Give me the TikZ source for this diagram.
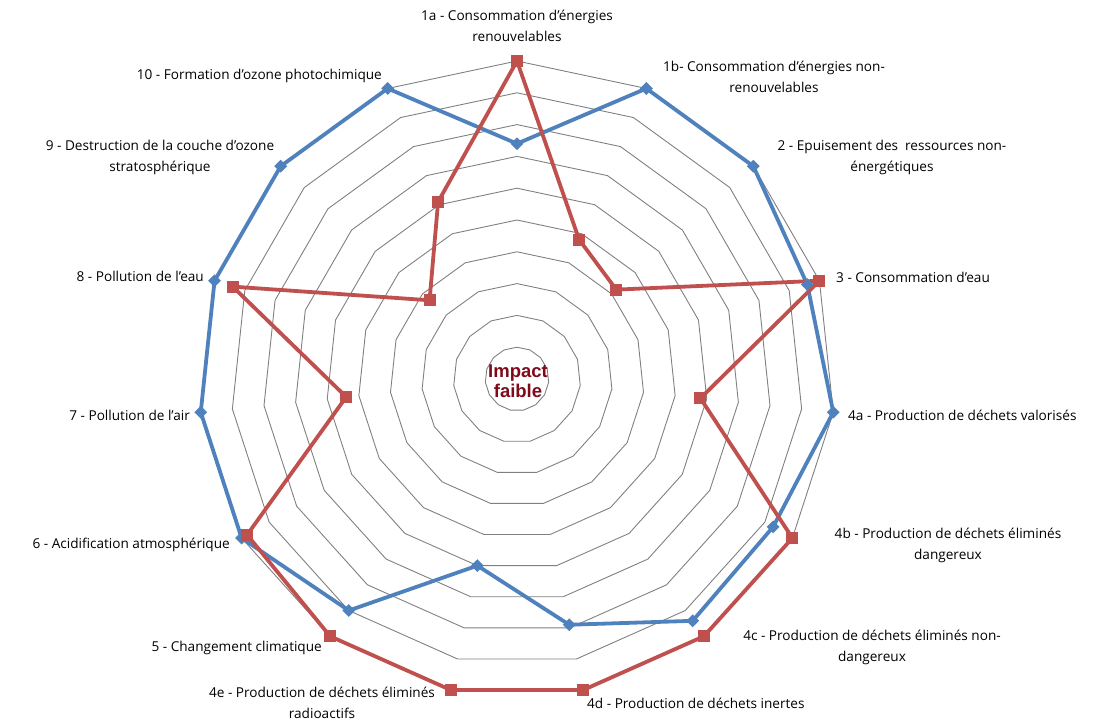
\documentclass[tikz,border=0pt]{standalone}
\usepackage{fontspec}
\setmainfont{Open Sans}
\newfontfamily\arialf{Liberation Sans}
\usetikzlibrary{calc,shapes.geometric}
\definecolor{sblue}{HTML}{4F81BD}
\definecolor{sred}{HTML}{C0504D}
\definecolor{dred}{HTML}{7F0A1A}
\begin{document}
\begin{tikzpicture}[x=1pt,y=1pt,
  lbl/.style={font=\fontsize{13.6}{21}\selectfont,align=center,inner sep=0pt},
  ring/.style={draw=gray,line width=0.9pt},
  bmark/.style={fill=sblue,diamond,minimum size=13pt,inner sep=0pt},
  rmark/.style={fill=sred,rectangle,minimum size=12pt,inner sep=0pt},
  bline/.style={draw=sblue,line width=3.8pt,line join=round},
  rline/.style={draw=sred,line width=3.8pt,line join=round}]
\useasboundingbox (0,-725) rectangle (1111,0);
\coordinate (O) at (517,-379);
% rings
\foreach \k in {1,...,10}{
  \draw[ring] ($(O)+(90:{31.8*\k})$) \foreach \i in {1,...,14}{ -- ($(O)+({90-24*\i}:{31.8*\k})$)} -- cycle;
}
% data
\def\bluevals{{0.74,1,1,0.96,1,0.93,0.94,0.79,0.6,0.9,1,1,1,1,1}}
\def\redvals{{1,0.48,0.42,1,0.58,1,1,1,1,1,0.98,0.54,0.94,0.37,0.61}}
\foreach \i in {0,...,14}{
  \pgfmathsetmacro\bv{\bluevals[\i]*318}
  \pgfmathsetmacro\rv{\redvals[\i]*318}
  \coordinate (b\i) at ($(O)+({90-24*\i}:\bv)$);
  \coordinate (r\i) at ($(O)+({90-24*\i}:\rv)$);
}
\draw[bline] (b0) \foreach \i in {1,...,14}{ -- (b\i)} -- cycle;
\draw[rline] (r0) \foreach \i in {1,...,14}{ -- (r\i)} -- cycle;
\foreach \i in {0,...,14}{
  \node[bmark] (bm\i) at (b\i) {};
}
\foreach \i in {0,...,14}{
  \node[rmark] (rm\i) at (r\i) {};
}
\node[font=\arialf\bfseries\fontsize{18.5}{20}\selectfont,text=dred,align=center,inner sep=0pt] (imp) at (518,-381) {Impact\\faible};
% labels
\node[lbl] (l1a) at (517,-26) {1a - Consommation d'énergies\\renouvelables};
\node[lbl] (l1b) at (774,-77) {1b- Consommation d'énergies non-\\renouvelables};
\node[lbl] (l2) at (892,-157) {2 - Epuisement des\ \ ressources non-\\énergétiques};
\node[lbl,anchor=west] (l3) at (836,-277) {3 - Consommation d'eau};
\node[lbl,anchor=west] (l4a) at (848,-415) {4a - Production de déchets valorisés};
\node[lbl] (l4b) at (948,-545) {4b - Production de déchets éliminés\\dangereux};
\node[lbl] (l4c) at (872,-647) {4c - Production de déchets éliminés non-\\dangereux};
\node[lbl,anchor=west] (l4d) at (587,-703) {4d - Production de déchets inertes};
\node[lbl] (l4e) at (322,-703) {4e - Production de déchets éliminés\\radioactifs};
\node[lbl,anchor=east] (l5) at (322,-648) {5 - Changement climatique};
\node[lbl,anchor=east] (l6) at (230,-545) {6 - Acidification atmosphérique};
\node[lbl,anchor=east] (l7) at (190,-415) {7 - Pollution de l'air};
\node[lbl,anchor=east] (l8) at (204,-276) {8 - Pollution de l'eau};
\node[lbl] (l9) at (160,-157) {9 - Destruction de la couche d'ozone\\stratosphérique};
\node[lbl,anchor=east] (l10) at (382,-76) {10 - Formation d'ozone photochimique};
\end{tikzpicture}
\end{document}
